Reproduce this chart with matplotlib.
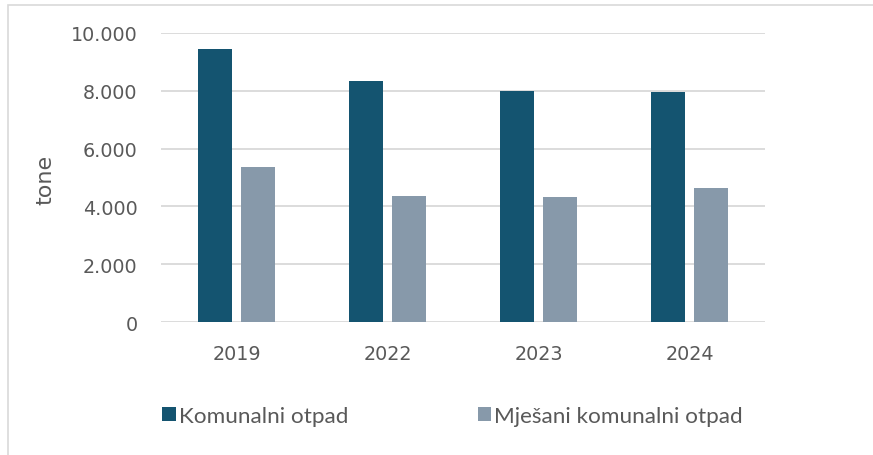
'''grouped bar chart: komunalni i mjesani komunalni otpad
'''
import matplotlib
matplotlib.use('Agg')
import matplotlib.pyplot as plt
from matplotlib.patches import Rectangle
from matplotlib.ticker import FuncFormatter

years = ['2019', '2022', '2023', '2024']
komunalni = [9430, 8325, 7980, 7955]
mjesani = [5355, 4365, 4320, 4640]
series_names = ['Komunalni otpad', 'Mješani komunalni otpad']

DARK = '#145470'
LIGHT = '#8799aa'
TEXT = '#595959'
GRID = '#d9d9d9'

W, H = 873, 456
fig = plt.figure(figsize=(W / 100, H / 100), dpi=100)

# light border of the chart box, runs off the right/bottom edges
fig.patches.append(Rectangle((8 / W, -0.1), 1.1, 1.1 - 6 / H, transform=fig.transFigure,
                             fill=False, edgecolor=GRID, linewidth=1.2))

ax = fig.add_axes([161 / W, 1 - 323.3 / H, 604 / W, (323.3 - 33.7) / H])
x = range(len(years))
bw = 0.226
off = 0.144
b1 = ax.bar([i - off for i in x], komunalni, width=bw, color=DARK, zorder=3)
b2 = ax.bar([i + off for i in x], mjesani, width=bw, color=LIGHT, zorder=3)

ax.set_xlim(-0.5, len(years) - 0.5)
ax.set_ylim(0, 10000)
ax.set_yticks(range(0, 10001, 2000))
ax.yaxis.set_major_formatter(FuncFormatter(lambda v, p: '{:,.0f}'.format(v).replace(',', '.')))
ax.set_xticks(list(x))
ax.set_xticklabels(years)
ax.grid(axis='y', color=GRID, linewidth=1.3, zorder=0)
for s in ax.spines.values():
    s.set_visible(False)
ax.tick_params(length=0, labelsize=13.8, colors=TEXT)
ax.tick_params(axis='y', pad=17)
ax.tick_params(axis='x', pad=15.5)
fig.text(45 / W, 1 - 180 / H, 'tone', rotation=90, ha='center', va='center',
         fontsize=16, color=TEXT)

leg = fig.legend([b1, b2], series_names, loc='center left', bbox_to_anchor=(162 / W, 1 - 417 / H),
                 ncol=2, frameon=False, handlelength=0.6, handleheight=0.6, handletextpad=0.15,
                 columnspacing=5.75, borderaxespad=0, borderpad=0,
                 prop={'family': 'Lato', 'size': 16.2})
for t in leg.get_texts():
    t.set_color(TEXT)

fig.savefig('out.png', dpi=100)
